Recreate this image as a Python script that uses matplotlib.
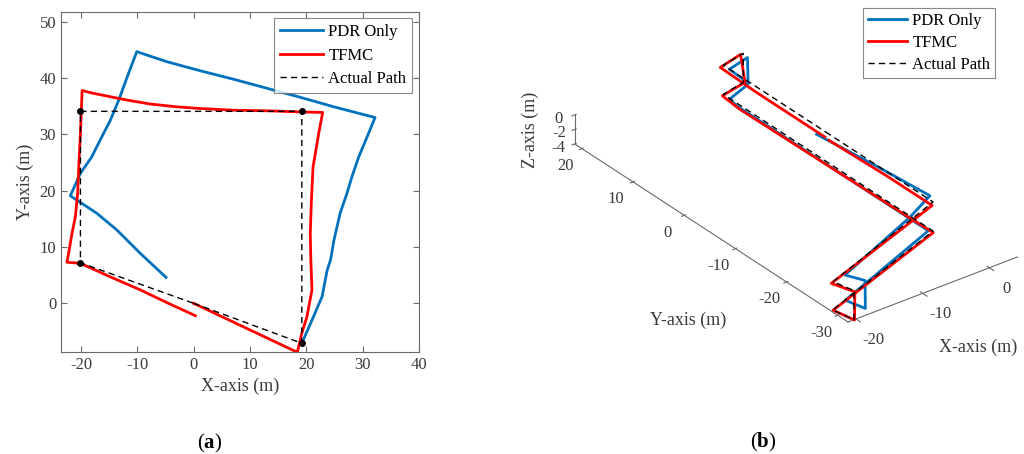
import numpy as np
import matplotlib
matplotlib.use("Agg")
import matplotlib.pyplot as plt
from matplotlib.lines import Line2D
from mpl_toolkits.mplot3d import proj3d

plt.rcParams["font.family"] = ["Liberation Serif", "DejaVu Serif"]
plt.rcParams["axes.unicode_minus"] = False
plt.rcParams["mathtext.fontset"] = "custom"
plt.rcParams["mathtext.rm"] = "Liberation Serif"
plt.rcParams["mathtext.bf"] = "Liberation Serif:bold"

BLUE = "#0072BD"
RED = "#FF0000"
TXT = "#3a3a3a"
EDGE = "#6a6a6a"

# ---------------- (a) planar trajectories ----------------
pdr_x = [19.2, 21.0, 22.8, 23.7, 24.3, 24.9, 26.0, 27.2, 28.1, 29.3, 30.8, 32.2,
         24.9, 18.9, 13.0, 7.1, 1.2, -4.7, -10.1,
         -11.8, -13.3, -14.8, -16.6, -18.1, -20.1, -21.9,
         -17.2, -13.6, -9.5, -4.9]
pdr_y = [-7.1, -3.0, 1.2, 5.9, 7.7, 11.2, 16.0, 19.5, 22.5, 26.0, 29.6, 33.0,
         34.9, 36.6, 38.2, 39.8, 41.3, 42.9, 44.7,
         40.2, 36.1, 32.5, 29.0, 26.0, 23.1, 19.1,
         16.0, 13.0, 8.9, 4.6]

tfmc_x = [0.0, 18.4, 19.2, 20.1, 21.0, 20.8, 20.7, 20.9, 21.2, 21.6, 22.2, 22.9,
          18.9, 13.0, 7.1, 1.2, -3.0, -7.7, -11.8, -14.8, -17.8, -19.8,
          -20.1, -20.4, -20.6, -21.0, -21.6, -22.2, -22.5,
          -20.1, -14.8, -9.5, -4.7, 0.3]
tfmc_y = [0.0, -8.7, -5.3, -2.4, 2.4, 7.7, 12.4, 18.3, 24.3, 26.6, 30.2, 33.9,
          34.0, 34.2, 34.3, 34.6, 34.9, 35.4, 36.1, 36.7, 37.3, 37.8,
          30.2, 24.3, 19.5, 15.4, 12.4, 8.9, 7.3,
          7.1, 4.7, 2.4, 0.1, -2.2]

actual_x = [0.0, 19.2, 19.2, -20.1, -20.1, 0.0]
actual_y = [0.0, -7.1, 34.1, 34.1, 7.2, 0.0]
corner_idx = [1, 2, 3, 4]

# ---------------- (b) 3-D trajectories ----------------
pdr3_x = [-1.2, -0.1, 0.6, -4.4, -18.9, -17.8, -17.6, -18.3, -0.4, -0.4, -0.2, 3.8, 3.4, 0.0, -0.2]
pdr3_y = [0.2, -10.7, -19.6, -22.2, -28.4, -30.9, -30.7, -27.7, -20.6, 16.4, 18.6, 20.1, 19.7, 18.8, 15.0]
pdr3_z = [0, 0, 0, 0, 0, 0, -4, -4, -4, -4, -4, -4, 0, 0, 0]

tfmc3_x = [-0.9, -0.6, -0.6, -21.4, -20.4, -20.3, -20.9, -0.2, -0.3, -0.6, -0.3, 3.8, 3.2, -0.6, -0.8, -0.8]
tfmc3_y = [-1.8, -12.8, -21.6, -29.0, -32.3, -32.1, -28.7, -21.3, -16.3, 16.0, 19.8, 20.7, 20.8, 19.8, 12.5, -0.9]
tfmc3_z = [0, 0, 0, 0, 0, -4, -4, -4, -4, -4, -4, -4, 0, 0, 0, 0]

actual3_x = [0.0, 0.0, -21.0, -20.3, -20.3, -20.9, 0.0, 0.0, 3.6, 3.6, 0.0, 0.0]
actual3_y = [0.0, -21.0, -28.8, -32.0, -32.0, -28.6, -21.0, 20.0, 20.8, 20.8, 20.0, 0.0]
actual3_z = [0, 0, 0, 0, -4, -4, -4, -4, -4, 0, 0, 0]

x3_lim = (-21.2, 4.2)
y3_lim = (-32.0, 21.4)
z3_lim = (-4.0, 0.0)

W, H = 1024, 454
fig = plt.figure(figsize=(W / 100, H / 100), dpi=100)

# ---- panel (a)
ax1 = fig.add_axes([61 / W, 1 - 352.3 / H, 358 / W, 340.6 / H])
ax1.plot(pdr_x, pdr_y, color=BLUE, lw=2, label="PDR Only")
ax1.plot(tfmc_x, tfmc_y, color=RED, lw=2, label="TFMC")
ax1.plot(actual_x, actual_y, color="black", lw=1, dashes=(4.5, 3), label="Actual Path")
ax1.plot([actual_x[i] for i in corner_idx], [actual_y[i] for i in corner_idx],
         "o", color="black", markersize=4)
ax1.set_xlim(-23.55, 40)
ax1.set_ylim(-8.7, 51.8)
ax1.set_xticks([-20, -10, 0, 10, 20, 30, 40])
ax1.set_yticks([0, 10, 20, 30, 40, 50])
ax1.tick_params(direction="in", top=True, right=True, length=4, width=0.8,
                colors=EDGE, labelcolor=TXT, labelsize=12)
for sp in ax1.spines.values():
    sp.set_color(EDGE)
    sp.set_linewidth(0.8)
ax1.set_xlabel("X-axis (m)", fontsize=13, color=TXT, labelpad=3)
ax1.set_ylabel("Y-axis (m)", fontsize=13, color=TXT, labelpad=4)
leg = ax1.legend(loc="upper right", fontsize=12, frameon=True, fancybox=False,
                 edgecolor=EDGE, borderaxespad=0.4, handlelength=2.6,
                 handletextpad=0.3, labelspacing=0.45, borderpad=0.35)
leg.get_frame().set_linewidth(0.8)

# ---- panel (b)
ax2 = fig.add_axes([0.5, 0.0, 0.5, 1.0], projection="3d", proj_type="ortho")
ax2.plot(pdr3_x, pdr3_y, pdr3_z, color=BLUE, lw=2)
ax2.plot(tfmc3_x, tfmc3_y, tfmc3_z, color=RED, lw=2)
ax2.plot(actual3_x, actual3_y, actual3_z, color="black", lw=1, dashes=(4.5, 3))
ax2.set_xlim(x3_lim)
ax2.set_ylim(y3_lim)
ax2.set_zlim(z3_lim)
ax2.set_box_aspect((x3_lim[1] - x3_lim[0], y3_lim[1] - y3_lim[0], z3_lim[1] - z3_lim[0]))
ax2.view_init(elev=30, azim=-127.5)
ax2.set_xticks([-20, -10, 0])
ax2.set_yticks([-30, -20, -10, 0, 10, 20])
ax2.set_zticks([-4, -2, 0])
ax2.grid(False)
for axis in (ax2.xaxis, ax2.yaxis, ax2.zaxis):
    axis.set_pane_color((1, 1, 1, 0))
    axis.line.set_color(EDGE)
    axis.line.set_linewidth(0.8)
ax2.tick_params(colors=EDGE, labelcolor=TXT, labelsize=12)
ax2.tick_params(axis="y", pad=10)
ax2.tick_params(axis="z", pad=-1.5)

# place the 3-D box so that its front corner and the far end of the y axis
# land where they sit in the reference
fig.canvas.draw()
M = ax2.get_proj()


def to_px(x, y, z):
    px, py, _ = proj3d.proj_transform(x, y, z, M)
    return np.array(ax2.transData.transform((px, py)))


p1 = to_px(x3_lim[0], y3_lim[0], z3_lim[0])
p2 = to_px(x3_lim[0], y3_lim[1], z3_lim[0])
t1 = np.array([848.0, H - 322.0])
t2 = np.array([576.0, H - 142.0])
s = np.linalg.norm(t2 - t1) / np.linalg.norm(p2 - p1)
pos = ax2.get_position(original=True)
c_old = np.array([(pos.x0 + pos.x1) / 2 * W, (pos.y0 + pos.y1) / 2 * H])
c_new = t1 - s * (p1 - c_old)
nw, nh = pos.width * W * s, pos.height * H * s
ax2.set_position([(c_new[0] - nw / 2) / W, (c_new[1] - nh / 2) / H, nw / W, nh / H])

fig.text(530 / W, 1 - 130 / H, "Z-axis (m)", rotation=90, ha="center", va="center",
         fontsize=13, color=TXT)
fig.text(688 / W, 1 - 320 / H, "Y-axis (m)", ha="center", va="center",
         fontsize=13, color=TXT)
fig.text(978 / W, 1 - 347 / H, "X-axis (m)", ha="center", va="center",
         fontsize=13, color=TXT)

handles = [Line2D([], [], color=BLUE, lw=2), Line2D([], [], color=RED, lw=2),
           Line2D([], [], color="black", lw=1, dashes=(4.5, 3))]
leg2 = fig.legend(handles, ["PDR Only", "TFMC", "Actual Path"], loc="upper left",
                  bbox_to_anchor=(863.3 / W, 1 - 8.3 / H), fontsize=12, frameon=True,
                  fancybox=False, edgecolor=EDGE, borderaxespad=0, handlelength=2.35,
                  handletextpad=0.3, labelspacing=0.35, borderpad=0.3)
leg2.get_frame().set_linewidth(0.8)

fig.text(210 / W, 1 - 443 / H, r"($\mathbf{a}$)", ha="center", va="center", fontsize=15)
fig.text(763 / W, 1 - 442 / H, r"($\mathbf{b}$)", ha="center", va="center", fontsize=15)

fig.savefig("out.png", dpi=100)
